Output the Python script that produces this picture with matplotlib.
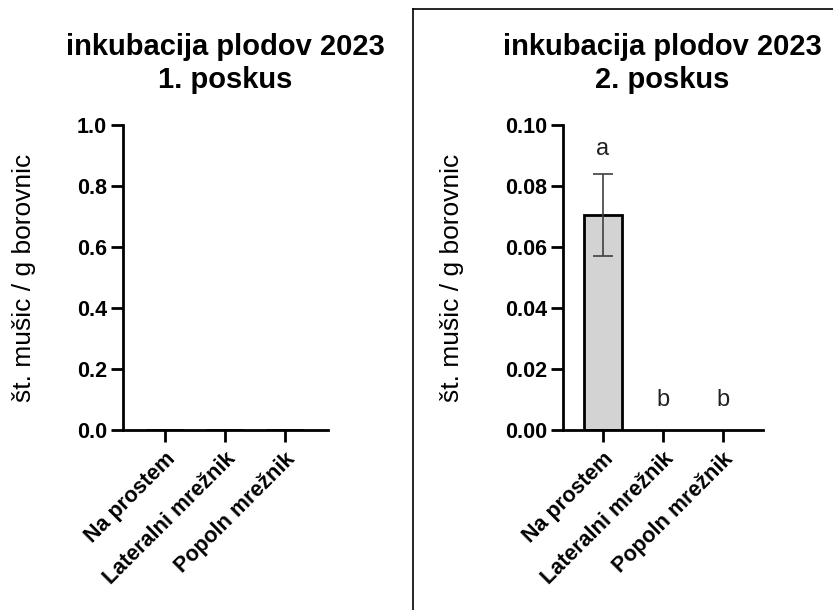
import matplotlib
matplotlib.use('Agg')
import matplotlib.pyplot as plt
from matplotlib.lines import Line2D

plt.rcParams['font.family'] = ['Liberation Sans', 'DejaVu Sans']

categories = ['Na prostem', 'Lateralni mrežnik', 'Popoln mrežnik']

# 1. poskus - no flies found
means1 = [0.0, 0.0, 0.0]
# 2. poskus
means2 = [0.0705, 0.0, 0.0]
err2 = [0.0135, 0.0, 0.0]
letters2 = ['a', 'b', 'b']
letter_y2 = [0.0885, 0.0063, 0.0063]

title_line1 = 'inkubacija plodov 2023'
title_line2 = ['1. poskus', '2. poskus']
ylabel = 'št. mušic / g borovnic'

W, H = 833, 610


def style_axis(ax, xlim, ymax, yticks, fmt, label_x):
    ax.set_xlim(*xlim)
    ax.set_ylim(0, ymax)
    ax.spines['top'].set_visible(False)
    ax.spines['right'].set_visible(False)
    ax.spines['left'].set_linewidth(2)
    ax.spines['bottom'].set_linewidth(2)
    ax.set_yticks(yticks)
    ax.set_yticklabels([fmt % v for v in yticks], fontsize=15.5, fontweight='bold')
    ax.set_xticks(range(len(categories)))
    ax.set_xticklabels(categories, rotation=45, ha='right', rotation_mode='anchor',
                       fontsize=15.5, fontweight='bold')
    ax.tick_params(width=2, length=8.5, pad=3)
    ax.tick_params(axis='x', pad=5)
    ax.set_ylabel(ylabel, fontsize=19)
    ax.yaxis.set_label_coords(label_x, 0.5)
    ax.yaxis.label.set_verticalalignment('center')


fig = plt.figure(figsize=(W / 100, H / 100), dpi=100)

# left panel
ax1 = fig.add_axes([123 / W, 1 - 430 / H, 205 / W, 305 / H])
ax1.bar(range(3), means1, width=0.62, color='#d3d3d3', edgecolor='black', linewidth=2)
style_axis(ax1, (-0.7, 2.72), 1.0, [0.0, 0.2, 0.4, 0.6, 0.8, 1.0], '%.1f', -0.483)

# right panel
ax2 = fig.add_axes([563 / W, 1 - 430 / H, 200 / W, 305 / H])
ax2.bar([0], means2[:1], width=0.62, color='#d3d3d3', edgecolor='black', linewidth=2, zorder=2)
ax2.errorbar([0], means2[:1], yerr=[err2[:1], err2[:1]], fmt='none',
             ecolor='#404040', elinewidth=1.2, capsize=7, capthick=1.2, zorder=3)
for i, t in enumerate(letters2):
    ax2.text(i, letter_y2[i], t, ha='center', va='bottom', fontsize=17, color='#222222')
style_axis(ax2, (-0.667, 2.67), 0.10, [0.0, 0.02, 0.04, 0.06, 0.08, 0.10], '%.2f', -0.555)

# titles
for xc, sub in zip([225 / W, 662 / W], title_line2):
    fig.text(xc, 1 - 55 / H, title_line1, ha='center', va='baseline',
             fontsize=21, fontweight='bold')
    fig.text(xc, 1 - 88 / H, sub, ha='center', va='baseline',
             fontsize=21, fontweight='bold')

# frame around second panel (left and top edges)
fig.add_artist(Line2D([413 / W, 413 / W], [0, 1 - 9 / H], transform=fig.transFigure,
                      color='black', linewidth=1.2))
fig.add_artist(Line2D([413 / W, 1], [1 - 9 / H, 1 - 9 / H], transform=fig.transFigure,
                      color='black', linewidth=1.2))

fig.savefig('out.png', dpi=100)
